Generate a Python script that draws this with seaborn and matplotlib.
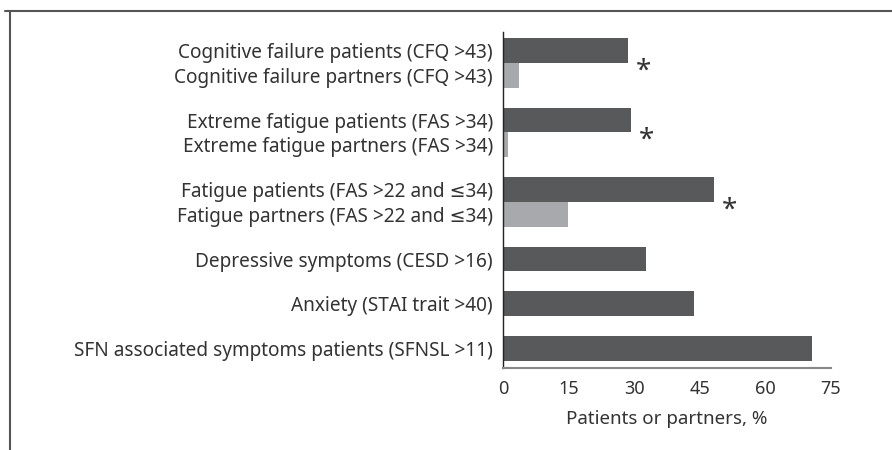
import seaborn as sns
import matplotlib.pyplot as plt
import matplotlib.lines as mlines
import pandas as pd

# Values (percent)
labels = [
    "Cognitive failure patients (CFQ >43)",
    "Cognitive failure partners (CFQ >43)",
    "Extreme fatigue patients (FAS >34)",
    "Extreme fatigue partners (FAS >34)",
    "Fatigue patients (FAS >22 and \u226434)",
    "Fatigue partners (FAS >22 and \u226434)",
    "Depressive symptoms (CESD >16)",
    "Anxiety (STAI trait >40)",
    "SFN associated symptoms patients (SFNSL >11)",
]
values = [28.5, 3.5, 29.2, 1.0, 48.2, 14.7, 32.6, 43.6, 70.6]
who = ["patients", "partners", "patients", "partners", "patients", "partners",
       "patients", "patients", "patients"]
group_id = [0, 0, 1, 1, 2, 2, 3, 4, 5]
significant = [0, 1, 2]  # groups marked with *

xticks = [0, 15, 30, 45, 60, 75]

# bars within a group touch, groups separated by a gap
gap = 0.8
ypos = []
pos = 0.0
prev = None
for g in group_id:
    if prev is not None:
        pos += 1 if g == prev else 1 + gap
    ypos.append(round(pos, 3))
    prev = g

df = pd.DataFrame({"label": labels, "value": values, "who": who, "y": ypos, "group": group_id})

sns.set_style("white")
plt.rcParams["font.family"] = ["Noto Sans", "DejaVu Sans"]

fig = plt.figure(figsize=(8.92, 4.5), dpi=100)
ax = fig.add_axes([0.5643, 0.1829, 0.9316 - 0.5643, 0.9289 - 0.1829])

sns.barplot(data=df, x="value", y="y", hue="who", orient="y", native_scale=True,
            width=1, dodge=False, saturation=1, linewidth=0,
            palette={"patients": "#58595b", "partners": "#a7a9ac"},
            legend=False, ax=ax)

ax.set_yticks(ypos, labels)
ax.set_ylim(ypos[-1] + 0.78, -0.75)
ax.set_xlim(0, 75)
ax.set_xticks(xticks, [str(t) for t in xticks])
ax.set_xlabel("Patients or partners, %", fontsize=13.5, color="#333333", labelpad=9)
ax.set_ylabel("")

for s in ["top", "right"]:
    ax.spines[s].set_visible(False)
ax.spines["left"].set_color("#222222")
ax.spines["left"].set_linewidth(1.0)
ax.spines["bottom"].set_color("#888888")
ax.spines["bottom"].set_linewidth(1.5)
ax.tick_params(axis="x", direction="out", length=6.5, width=1.2, color="#888888",
               labelsize=13, labelcolor="#333333", pad=2)
ax.tick_params(axis="y", length=0, labelsize=13.7, labelcolor="#333333", pad=7.5)

# significance asterisks next to each patients/partners pair
for g in significant:
    rows = df[df["group"] == g]
    xv = rows.loc[rows["who"] == "patients", "value"].iloc[0]
    yv = rows["y"].mean()
    ax.annotate("*", (xv, yv), xytext=(6, -6), textcoords="offset points",
                ha="left", va="center", fontsize=20, color="#333333")

# frame lines around the figure (top and left)
fig.add_artist(mlines.Line2D([0.006, 1.0], [0.976, 0.976], color="#555555", lw=1.5))
fig.add_artist(mlines.Line2D([0.011, 0.011], [0.0, 0.976], color="#555555", lw=1.5))

fig.savefig("out.png", dpi=100, facecolor="white")
